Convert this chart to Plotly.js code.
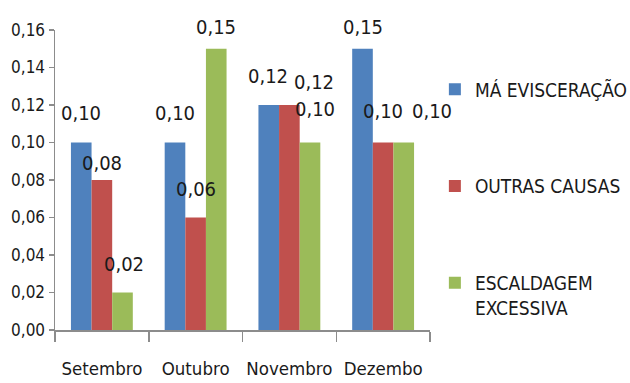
<!DOCTYPE html>
<html>
<head>
<meta charset="utf-8">
<script src="https://cdn.plot.ly/plotly-3.0.1.min.js"></script>
<style>html,body{margin:0;padding:0;background:#fff;}#chart{width:630px;height:383px;}</style>
</head>
<body>
<div id="chart"></div>
<script>
// ---- data ----
const categories = ["Setembro", "Outubro", "Novembro", "Dezembo"];
const seriesNames = ["MÁ EVISCERAÇÃO", "OUTRAS CAUSAS", "ESCALDAGEM<br>EXCESSIVA"];
const maEvisceracao = [0.10, 0.10, 0.12, 0.15];
const outrasCausas = [0.08, 0.06, 0.12, 0.10];
const escaldagem = [0.02, 0.15, 0.10, 0.10];
const labelTexts = [
  ["0,10", "0,10", "0,12", "0,15"],
  ["0,08", "0,06", "0,12", "0,10"],
  ["0,02", "0,15", "0,10", "0,10"]
];

// ---- styles ----
const colors = ["#4F81BD", "#C0504D", "#9BBB59"];
const FONT = '"Liberation Sans Narrow", "DejaVu Sans Condensed", "Arial Narrow", sans-serif';
// label offsets (px) relative to each bar's top-centre: [dx, dy]
const labelOffsets = [
  [[0, 30], [0, 30], [-1, 29], [0, 22]],
  [[0, 17], [0, 29], [25, 23], [0, 32]],
  [[1, 29], [0, 22], [5, 34], [28, 32]]
];

const margin = {l: 55, r: 200, t: 30, b: 53, autoexpand: false};
const plotW = 630 - margin.l - margin.r;
const bargap = 0.34;
const barPx = plotW / categories.length * (1 - bargap) / 3;

const values = [maEvisceracao, outrasCausas, escaldagem];
const traces = values.map((v, i) => ({
  type: "bar",
  name: seriesNames[i],
  x: categories,
  y: v,
  marker: {color: colors[i]},
  legendgroup: "g" + i,
  hoverinfo: "skip"
}));

const annotations = [];
values.forEach((v, i) => {
  v.forEach((val, j) => {
    annotations.push({
      x: categories[j], y: val, xref: "x", yref: "y",
      text: labelTexts[i][j], showarrow: false,
      xanchor: "center", yanchor: "middle",
      xshift: (i - 1) * barPx + labelOffsets[i][j][0],
      yshift: labelOffsets[i][j][1],
      font: {family: FONT, size: 20, color: "#1a1a1a"}
    });
  });
});

const layout = {
  width: 630, height: 383,
  margin: margin,
  paper_bgcolor: "#fff", plot_bgcolor: "#fff",
  separators: ",.",
  barmode: "group",
  bargap: bargap, bargroupgap: 0,
  font: {family: FONT, size: 19, color: "#1a1a1a"},
  xaxis: {
    type: "category",
    range: [-0.5, categories.length - 0.5], autorange: false,
    showline: true, linecolor: "#8c8c8c", linewidth: 1.5,
    ticks: "outside", tickson: "boundaries", ticklen: 10, tickcolor: "#8c8c8c", tickwidth: 1.5,
    showgrid: false, zeroline: false,
    tickangle: 0, automargin: false,
    tickfont: {family: FONT, size: 18.5, color: "#1a1a1a"},
    ticklabelstandoff: 21
  },
  yaxis: {
    range: [0, 0.16], autorange: false, dtick: 0.02, tick0: 0, tickformat: ".2f",
    showline: true, linecolor: "#8c8c8c", linewidth: 1.5,
    ticks: "outside", ticklen: 5, tickcolor: "#8c8c8c", tickwidth: 1.5,
    showgrid: false, zeroline: false, automargin: false,
    tickfont: {family: FONT, size: 17, color: "#1a1a1a"}
  },
  showlegend: true,
  legend: {
    x: 1.013, xanchor: "left", y: 0.865, yanchor: "top",
    tracegroupgap: 69, valign: "top",
    font: {family: FONT, size: 19, color: "#1a1a1a"},
    bgcolor: "rgba(0,0,0,0)"
  },
  annotations: annotations
};

Plotly.newPlot("chart", traces, layout, {displayModeBar: false, staticPlot: true});
</script>
</body>
</html>
